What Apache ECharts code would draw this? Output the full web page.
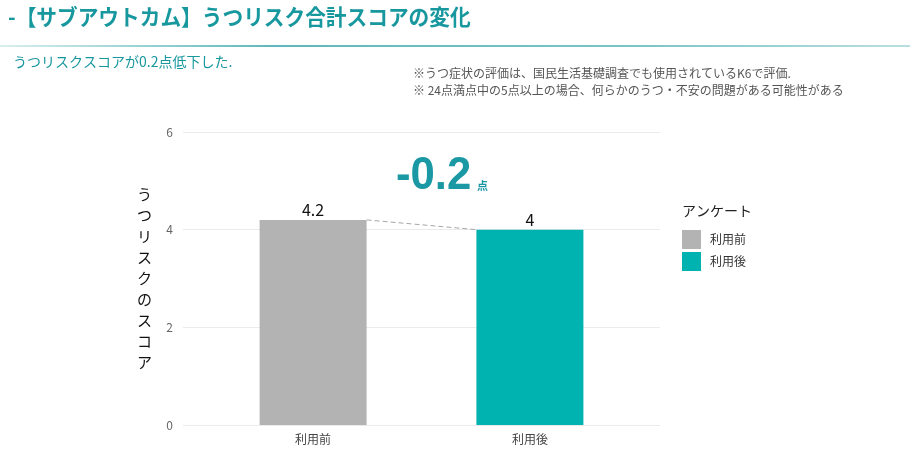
<!DOCTYPE html>
<html><head><meta charset="utf-8">
<script src="https://cdn.jsdelivr.net/npm/echarts@6/dist/echarts.min.js"></script>
<style>html,body{margin:0;padding:0;background:#fff;}#c{width:912px;height:453px;}</style>
</head><body><div id="c"></div>
<script>
const categories = ['利用前', '利用後'];
const values = [4.2, 4.0];
const yTicks = [0, 2, 4, 6];
const seriesColors = ['#b3b3b3', '#00b2b0'];
const diffText = '-0.2';

const chart = echarts.init(document.getElementById('c'));
const font = '"Noto Sans CJK JP", "Noto Sans", sans-serif';
const yName = 'うつリスクのスコア'.split('').join('\n');

const barSeries = categories.map((c, i) => ({
  name: c,
  type: 'bar',
  data: [[i + 1, values[i]]],
  barWidth: 107,
  barGap: '-100%',
  itemStyle: { color: seriesColors[i] },
  label: { show: true, position: 'top', color: '#111', fontSize: 16, fontFamily: font, distance: 2,
    formatter: p => String(p.value[1]) },
  z: 3
}));

chart.setOption({
  animation: false,
  textStyle: { fontFamily: font },
  grid: { left: 183, right: 252, top: 132, bottom: 28 },
  xAxis: {
    type: 'value', min: 0.4, max: 2.6,
    axisLine: { show: false }, axisTick: { show: false }, splitLine: { show: false },
    axisLabel: { customValues: [1, 2], formatter: v => categories[Math.round(v) - 1] || '',
      color: '#444', fontSize: 12, margin: 8 }
  },
  yAxis: {
    type: 'value', min: yTicks[0], max: yTicks[yTicks.length - 1], interval: 2,
    axisLine: { show: false }, axisTick: { show: false },
    splitLine: { lineStyle: { color: '#ebebeb', width: 1 } },
    axisLabel: { color: '#666', fontSize: 12, margin: 10 },
    name: yName, nameLocation: 'middle', nameRotate: 0, nameGap: 31,
    nameTextStyle: { color: '#111', fontSize: 15, lineHeight: 21 }
  },
  legend: {
    data: categories, orient: 'vertical', left: 682, top: 230, padding: 0,
    itemWidth: 19, itemHeight: 19, itemGap: 3, icon: 'rect',
    textStyle: { color: '#333', fontSize: 12, padding: [0, 0, 0, 4] }
  },
  series: [
    ...barSeries,
    {
      type: 'line', silent: true, symbol: 'none',
      data: [[1.247, values[0]], [1.753, values[1]]],
      lineStyle: { color: '#a6a6a6', type: [5, 3], width: 1 }, z: 4
    }
  ],
  graphic: [
    { type: 'text', x: 8, y: 6, scaleX: 0.94, style: { text: '-【サブアウトカム】うつリスク合計スコアの変化', fill: '#17979e', fontSize: 22, fontWeight: 'bold', fontFamily: font } },
    { type: 'rect', shape: { x: 0, y: 45, width: 910, height: 2 },
      style: { fill: new echarts.graphic.LinearGradient(0, 0, 1, 0, [
        { offset: 0, color: '#d8eeee' }, { offset: 0.3, color: '#5fb8bb' }, { offset: 0.7, color: '#7cc4c6' }, { offset: 1, color: '#b9dfe0' }]) } },
    { type: 'text', left: 13, top: 55, style: { text: 'うつリスクスコアが0.2点低下した.', fill: '#17979e', fontSize: 14, fontFamily: font } },
    { type: 'text', left: 413, top: 67, style: { text: '※うつ症状の評価は、国民生活基礎調査でも使用されているK6で評価.', fill: '#555', fontSize: 12, fontFamily: font } },
    { type: 'text', left: 413, top: 84, style: { text: '※ 24点満点中の5点以上の場合、何らかのうつ・不安の問題がある可能性がある', fill: '#555', fontSize: 12, fontFamily: font } },
    { type: 'text', x: 396, y: 153, scaleX: 0.95, style: { text: diffText, fill: '#1a98a4', fontSize: 46, fontWeight: 'bold', fontFamily: '"Liberation Sans", Arial, sans-serif' } },
    { type: 'text', left: 477, top: 180, style: { text: '点', fill: '#1a98a4', fontSize: 11, fontWeight: 'bold', fontFamily: font } },
    { type: 'text', left: 682, top: 204, style: { text: 'アンケート', fill: '#222', fontSize: 14, fontFamily: font } }
  ]
});
</script></body></html>
